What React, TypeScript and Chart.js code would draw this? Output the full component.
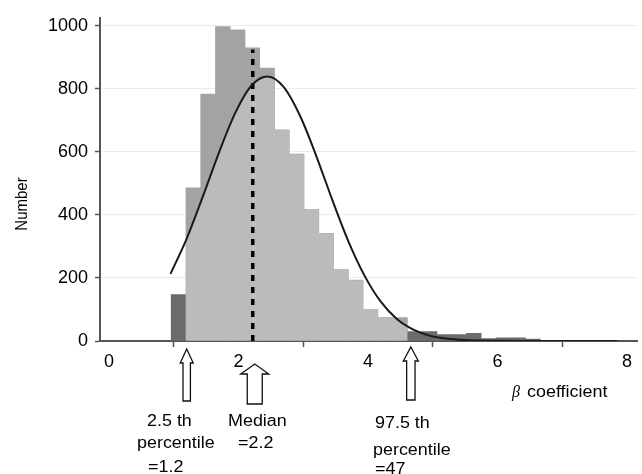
import React, { useEffect, useRef } from "react";
import { Chart, registerables } from "chart.js";

Chart.register(...registerables);

// ---- data ----
const binCenters = [
  1.074, 1.302, 1.53, 1.758, 1.986, 2.214, 2.442, 2.67, 2.898, 3.126, 3.354, 3.582, 3.81,
  4.038, 4.266, 4.494, 4.722, 4.95, 5.178, 5.406, 5.634, 5.862, 6.09, 6.318, 6.546,
];
const binCounts = [
  147, 486, 784, 998, 988, 931, 866, 670, 593, 417, 342, 227, 193,
  100, 74, 74, 30, 30, 20, 20, 24, 8, 10, 10, 6,
];
const curveX = [0.95, 1.2, 1.45, 1.7, 1.95, 2.2, 2.45, 2.7, 2.95, 3.2, 3.45, 3.7, 3.95, 4.2, 4.45, 4.7, 4.95, 5.2, 5.5, 6.0, 6.5, 7.0, 7.85];
const curveY = [213, 325, 459, 599, 724, 811, 840, 806, 715, 588, 447, 315, 206, 124, 69, 36, 17, 8, 3, 0.5, 0, 0, 0];
const pLow = 1.2;
const pHigh = 4.7;
const medianX = 2.22;
const medianTop = 925;
const xTicks = [0, 2, 4, 6, 8];
const yTicks = [0, 200, 400, 600, 800, 1000];
const xMin = -0.139;
const xMax = 8.154;
const yMax = 1026;

const DARK = "#6b6b6b";
const MID = "#a3a3a3";
const LIGHT = "#bbbbbb";
const FONT = '"Liberation Sans", Arial, Helvetica, sans-serif';

const inInterval = binCenters.map((c) => c >= pLow && c <= pHigh);

const shadePlugin = {
  id: "underCurveShade",
  afterDatasetDraw(chart: any, args: any) {
    if (args.index !== 0) return;
    const ctx = chart.ctx;
    const barMeta = chart.getDatasetMeta(0);
    const lineMeta = chart.getDatasetMeta(2);
    const line = lineMeta.dataset;
    const pts = lineMeta.data;
    ctx.save();
    ctx.beginPath();
    barMeta.data.forEach((bar: any, i: number) => {
      if (!inInterval[i]) return;
      const p = bar.getProps(["x", "y", "base", "width"], true);
      ctx.rect(p.x - p.width / 2, p.y, p.width, p.base - p.y);
    });
    ctx.clip();
    ctx.beginPath();
    let usedPath = false;
    try {
      if (line && typeof line.updateControlPoints === "function" && typeof line.path === "function") {
        line.updateControlPoints(chart.chartArea, "x");
        line.path(ctx);
        usedPath = true;
      }
    } catch (e) {
      usedPath = false;
    }
    if (!usedPath) {
      ctx.beginPath();
      pts.forEach((p: any, i: number) => (i ? ctx.lineTo(p.x, p.y) : ctx.moveTo(p.x, p.y)));
    }
    const baseY = chart.scales.y.getPixelForValue(0);
    ctx.lineTo(pts[pts.length - 1].x, baseY + 2);
    ctx.lineTo(pts[0].x, baseY + 2);
    ctx.closePath();
    ctx.fillStyle = LIGHT;
    ctx.fill();
    ctx.restore();
  },
};

function drawArrow(ctx: CanvasRenderingContext2D, cx: number, tipY: number, headY: number, headHalf: number, shaftHalf: number, bottomY: number) {
  ctx.beginPath();
  ctx.moveTo(cx, tipY);
  ctx.lineTo(cx + headHalf, headY);
  ctx.lineTo(cx + shaftHalf, headY);
  ctx.lineTo(cx + shaftHalf, bottomY);
  ctx.lineTo(cx - shaftHalf, bottomY);
  ctx.lineTo(cx - shaftHalf, headY);
  ctx.lineTo(cx - headHalf, headY);
  ctx.closePath();
  ctx.fillStyle = "#fff";
  ctx.fill();
  ctx.strokeStyle = "#111";
  ctx.lineWidth = 1.3;
  ctx.stroke();
}

function sText(ctx: CanvasRenderingContext2D, s: string, x: number, y: number, font = `16px ${FONT}`, sx = 1.12) {
  ctx.save();
  ctx.translate(x, y);
  ctx.scale(sx, 1);
  ctx.font = font;
  ctx.textAlign = "left";
  ctx.textBaseline = "alphabetic";
  ctx.fillStyle = "#000";
  ctx.fillText(s, 0, 0);
  ctx.restore();
}

const annotationPlugin = {
  id: "annotations",
  afterDraw(chart: any) {
    const ctx: CanvasRenderingContext2D = chart.ctx;
    const xs = chart.scales.x;
    ctx.save();
    // arrows
    drawArrow(ctx, xs.getPixelForValue(pLow), 349, 363, 6.5, 3.7, 401);
    drawArrow(ctx, xs.getPixelForValue(medianX) + 2, 364, 374, 14, 7.5, 404);
    drawArrow(ctx, xs.getPixelForValue(pHigh) - 2.5, 347, 361, 7.5, 4.2, 400);
    // labels
    sText(ctx, "2.5 th", 147, 426);
    sText(ctx, "percentile", 137, 448);
    sText(ctx, "=1.2", 148, 471.5);
    sText(ctx, "Median", 228, 426);
    sText(ctx, "=2.2", 238, 448);
    sText(ctx, "97.5 th", 375, 428);
    sText(ctx, "percentile", 373, 455);
    sText(ctx, "=47", 375, 474);
    // x-axis title
    sText(ctx, "\u03b2", 512, 397, `italic 16px "Liberation Serif", "DejaVu Serif", serif`, 1.0);
    sText(ctx, "coefficient", 527, 397);
    // y-axis title
    ctx.save();
    ctx.translate(22.5, 204);
    ctx.rotate(-Math.PI / 2);
    ctx.scale(1, 1.12);
    ctx.font = `15px ${FONT}`;
    ctx.textAlign = "center";
    ctx.textBaseline = "middle";
    ctx.fillStyle = "#000";
    ctx.fillText("Number", 0, 0);
    ctx.restore();
    ctx.restore();
  },
};

export default function App() {
  const ref = useRef<HTMLCanvasElement | null>(null);
  useEffect(() => {
    if (!ref.current) return;
    Chart.defaults.font.family = FONT;
    const chart = new Chart(ref.current, {
      type: "bar",
      data: {
        datasets: [
          {
            type: "bar",
            data: binCenters.map((x, i) => ({ x, y: binCounts[i] })),
            backgroundColor: binCenters.map((_, i) => (inInterval[i] ? MID : DARK)),
            borderWidth: 0,
            barPercentage: 1,
            categoryPercentage: 1,
            order: 3,
          } as any,
          {
            type: "line",
            data: [
              { x: medianX, y: 0 },
              { x: medianX, y: medianTop },
            ],
            borderColor: "#000",
            borderWidth: 3.5,
            borderDash: [6, 6],
            pointRadius: 0,
            fill: false,
            order: 2,
          } as any,
          {
            type: "line",
            data: curveX.map((x, i) => ({ x, y: curveY[i] })),
            borderColor: "#1a1a1a",
            borderWidth: 2,
            pointRadius: 0,
            cubicInterpolationMode: "monotone",
            fill: false,
            order: 1,
          } as any,
        ],
      },
      options: {
        responsive: false,
        animation: false,
        events: [],
        layout: { padding: { top: 5, right: 5, left: 0, bottom: 0 }, autoPadding: false } as any,
        plugins: { legend: { display: false }, tooltip: { enabled: false } },
        scales: {
          x: {
            type: "linear",
            min: xMin,
            max: xMax,
            offset: false,
            afterBuildTicks: (s: any) => {
              s.ticks = xTicks.map((v) => ({ value: v }));
            },
            afterFit: (s: any) => {
              s.height = 133;
            },
            grid: { drawOnChartArea: false, tickLength: 6, tickColor: "#555", tickWidth: 1.5 },
            border: { color: "#555", width: 2 },
            ticks: { color: "#000", font: { size: 18 }, padding: 4, maxRotation: 0, autoSkip: false, callback: (v: any) => String(v) },
          },
          y: {
            type: "linear",
            min: 0,
            max: yMax,
            afterBuildTicks: (s: any) => {
              s.ticks = yTicks.map((v) => ({ value: v }));
            },
            afterFit: (s: any) => {
              s.width = 100;
            },
            grid: { color: "#ececec", tickLength: 5, tickColor: "#555", tickWidth: 1.5 },
            border: { color: "#555", width: 2 },
            ticks: { color: "#000", font: { size: 18 }, padding: 7, callback: (v: any) => String(v) },
          },
        } as any,
      },
      plugins: [shadePlugin, annotationPlugin],
    });
    return () => chart.destroy();
  }, []);
  return (
    <div style={{ position: "absolute", left: 0, top: 0, width: 642, height: 474, background: "#fff" }}>
      <canvas ref={ref} width={642} height={474} style={{ width: 642, height: 474, display: "block" }} />
    </div>
  );
}
